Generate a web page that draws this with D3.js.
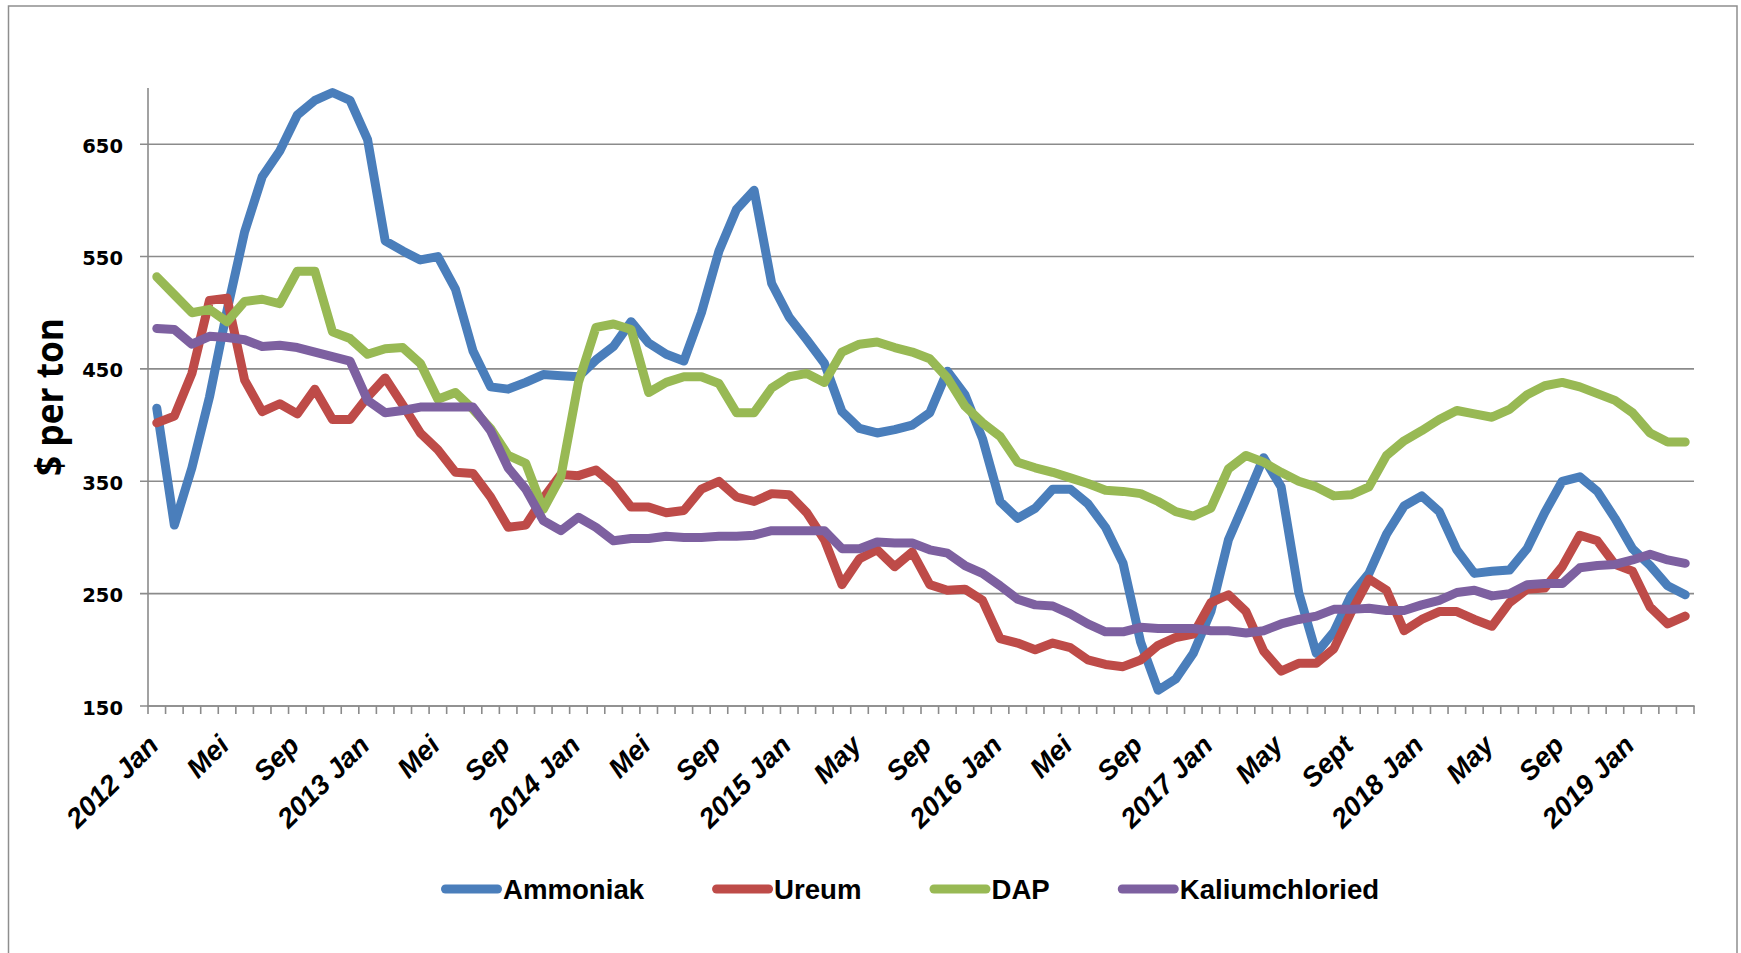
<!DOCTYPE html>
<html><head><meta charset="utf-8">
<script src="https://cdn.jsdelivr.net/npm/d3@7"></script>
<style>html,body{margin:0;padding:0;background:#fff;} svg{display:block}</style>
</head><body><svg id="chart" width="1741" height="953"></svg>
<script>
// ---- data ----
const years = [2012, 2013, 2014, 2015, 2016, 2017, 2018, 2019];
const monthNames = ["Jan","Feb","Mar","Apr","Mei","Jun","Jul","Aug","Sep","Okt","Nov","Dec"];
const categories = [];
years.forEach(y => monthNames.forEach(m => categories.push(y + " " + m)));
categories.length = 88; // 2012 Jan .. 2019 Apr

const tickLabels = ["2012 Jan","Mei","Sep","2013 Jan","Mei","Sep","2014 Jan","Mei","Sep","2015 Jan","May","Sep",
  "2016 Jan","Mei","Sep","2017 Jan","May","Sept","2018 Jan","May","Sep","2019 Jan"];
const tickEvery = 4;
const yTicks = [150, 250, 350, 450, 550, 650];
const yDomain = [150, 700];

const ammoniak = [415,311,362,425,502,572,621,644,676,689,696,689,654,564,555,547,550,521,466,434,432,438,445,444,
  443,458,470,492,473,463,457,500,555,592,609,526,496,476,455,412,397,393,396,400,411,448,427,388,
  332,317,326,343,343,330,309,277,207,164,174,197,234,298,334,371,345,251,197,216,249,268,303,328,
  337,323,289,268,270,271,290,322,350,354,341,317,290,275,257,249];
const ureum = [402,408,446,511,513,440,412,419,410,432,405,405,425,442,418,393,378,358,357,336,309,311,335,356,
  355,360,347,327,327,322,324,343,350,336,332,339,338,322,298,258,281,289,274,287,258,253,254,244,
  210,206,200,206,202,191,187,185,191,204,211,214,242,249,234,199,181,188,188,201,234,263,253,217,
  227,234,234,227,221,242,254,255,274,302,297,276,270,238,223,230];
const dap = [532,516,500,503,492,510,512,508,537,537,483,477,463,468,469,455,423,429,414,397,373,366,325,354,
  438,487,490,485,429,438,443,443,437,411,411,433,443,446,438,465,472,474,469,465,459,442,417,402,
  390,367,362,358,353,348,342,341,339,332,323,319,326,361,373,367,358,350,345,337,338,345,373,386,
  395,405,413,410,407,414,427,435,438,434,428,422,411,393,385,385];
const kalium = [486,485,472,479,478,476,470,471,469,465,461,457,422,411,413,416,416,416,416,395,362,343,315,306,
  318,309,297,299,299,301,300,300,301,301,302,306,306,306,306,290,290,296,295,295,289,286,275,268,
  257,245,240,239,232,223,216,216,220,219,219,219,217,217,215,217,223,227,230,236,236,237,235,235,
  240,244,251,253,248,250,258,259,259,273,275,276,280,285,280,277];

const seriesNames = ["Ammoniak", "Ureum", "DAP", "Kaliumchloried"];
const seriesValues = [ammoniak, ureum, dap, kalium];
const seriesColors = ["#4A7EBB", "#BE4B48", "#98B954", "#7D60A0"];

// ---- layout ----
const W = 1741, H = 953;
const plot = {left: 148, right: 1694, top: 88, bottom: 706};
const gridColor = "#8b8b8b";

const svg = d3.select("#chart");
svg.append("rect").attr("x", 0).attr("y", 0).attr("width", W).attr("height", H).attr("fill", "#fff");
svg.append("rect").attr("x", 8.5).attr("y", 6).attr("width", 1728.5).attr("height", 980)
  .attr("fill", "none").attr("stroke", "#8e8e8e").attr("stroke-width", 1.5);

const x = d3.scaleBand().domain(categories).range([plot.left, plot.right]).paddingInner(0).paddingOuter(0);
const y = d3.scaleLinear().domain(yDomain).range([plot.bottom, plot.top]);
const bw = x.bandwidth();

// gridlines + y ticks
const gy = svg.append("g");
yTicks.forEach(v => {
  gy.append("line").attr("x1", plot.left - 8).attr("x2", plot.right)
    .attr("y1", y(v)).attr("y2", y(v)).attr("stroke", gridColor).attr("stroke-width", 1.6);
  gy.append("text").attr("x", 123).attr("y", y(v)).attr("dy", "0.44em")
    .attr("text-anchor", "end").attr("font-family", "DejaVu Sans").attr("font-weight", "bold")
    .attr("font-size", 19.5).attr("fill", "#000").text(v);
});
gy.append("line").attr("x1", plot.left).attr("x2", plot.left).attr("y1", plot.top).attr("y2", plot.bottom)
  .attr("stroke", gridColor).attr("stroke-width", 1.6);

// x axis
const gx = svg.append("g");
gx.append("line").attr("x1", plot.left - 0.8).attr("x2", plot.right + 0.8).attr("y1", plot.bottom).attr("y2", plot.bottom)
  .attr("stroke", gridColor).attr("stroke-width", 1.6);
const boundaries = categories.map(c => x(c)).concat([x(categories[categories.length - 1]) + bw]);
boundaries.forEach(b => {
  gx.append("line").attr("x1", b).attr("x2", b).attr("y1", plot.bottom).attr("y2", plot.bottom + 8)
    .attr("stroke", gridColor).attr("stroke-width", 1.6);
});
tickLabels.forEach((t, k) => {
  const c = categories[k * tickEvery];
  const cx = x(c) + bw / 2 + 3.5, cy = plot.bottom + 41;
  gx.append("text").attr("transform", `translate(${cx},${cy}) rotate(-45)`)
    .attr("text-anchor", "end").attr("font-family", "Liberation Sans, Arial, sans-serif")
    .attr("font-weight", "bold").attr("font-style", "italic").attr("font-size", 27.6)
    .attr("fill", "#000").text(t);
});

// y title
svg.append("text").attr("transform", `translate(63,${(plot.top + plot.bottom) / 2}) rotate(-90)`)
  .attr("text-anchor", "middle").attr("font-family", "Open Sans").attr("font-weight", "bold")
  .attr("font-size", 37).attr("textLength", 158).attr("lengthAdjust", "spacingAndGlyphs")
  .attr("fill", "#000").text("$ per ton");

// lines
const line = d3.line().x((d, i) => x(categories[i]) + bw / 2).y(d => y(d));
seriesValues.forEach((vals, s) => {
  svg.append("path").datum(vals).attr("d", line).attr("fill", "none")
    .attr("stroke", seriesColors[s]).attr("stroke-width", 9)
    .attr("stroke-linejoin", "round").attr("stroke-linecap", "round");
});

// legend
const lg = svg.append("g");
let lx = 441;
const legY = 889;
seriesNames.forEach((n, s) => {
  lg.append("line").attr("x1", lx + 4.5).attr("x2", lx + 61 - 4.5).attr("y1", legY).attr("y2", legY)
    .attr("stroke", seriesColors[s]).attr("stroke-width", 9).attr("stroke-linecap", "round");
  const t = lg.append("text").attr("x", lx + 62).attr("y", legY + 10).attr("font-family", "Liberation Sans, Arial, sans-serif")
    .attr("font-weight", "bold").attr("font-size", 27.6).attr("fill", "#000").text(n);
  const w = t.node().getComputedTextLength();
  lx = lx + 62 + w + 68;
});
</script>
</body></html>
